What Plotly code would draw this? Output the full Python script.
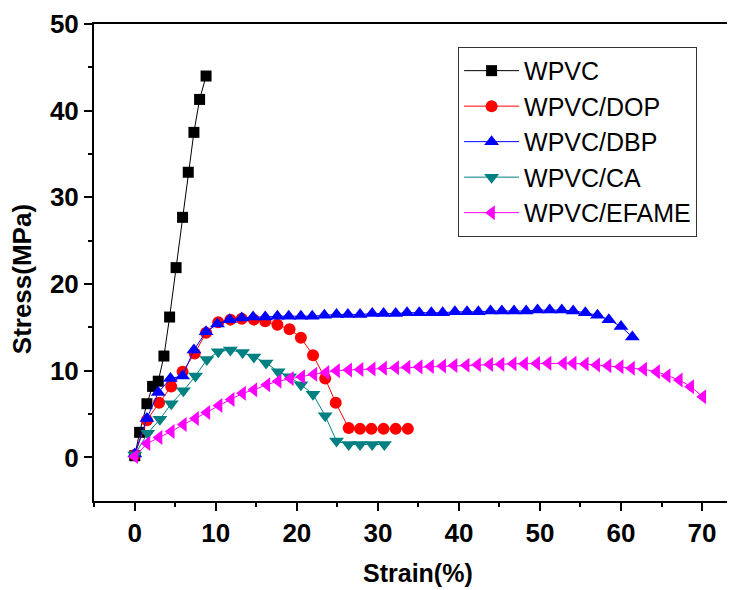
import plotly.graph_objects as go

# ---- data ----
wpvc_x = [0.0, 0.6, 1.5, 2.2, 2.9, 3.6, 4.3, 5.1, 5.9, 6.6, 7.3, 8.0, 8.8]
wpvc_y = [0.2, 2.9, 6.2, 8.2, 8.8, 11.7, 16.2, 21.9, 27.7, 32.9, 37.5, 41.3, 44.0]

dop_x = [0.0, 1.5, 3.0, 4.5, 5.9, 7.4, 8.8, 10.3, 11.8, 13.2, 14.7, 16.1, 17.6,
         19.1, 20.5, 22.0, 23.5, 24.8, 26.4, 27.8, 29.2, 30.7, 32.2, 33.7]
dop_y = [0.3, 4.3, 6.3, 8.2, 9.9, 12.0, 14.4, 15.6, 15.9, 16.0, 15.9, 15.7, 15.3,
         14.8, 13.8, 11.8, 9.1, 6.3, 3.4, 3.3, 3.3, 3.3, 3.3, 3.3]

dbp_x = [0.0, 1.5, 2.9, 4.4, 5.9, 7.3, 8.8, 10.2, 11.7, 13.2, 14.6, 16.1, 17.6,
         19.0, 20.5, 21.9, 23.4, 24.9, 26.3, 27.8, 29.3, 30.7, 32.2, 33.6, 35.1,
         36.6, 38.0, 39.5, 41.0, 42.4, 43.9, 45.3, 46.8, 48.3, 49.7, 51.2, 52.7,
         54.1, 55.6, 57.1, 58.5, 60.0, 61.4]
dbp_y = [0.4, 4.5, 7.5, 9.1, 9.4, 12.4, 14.5, 15.4, 15.9, 16.1, 16.2, 16.2, 16.3,
         16.3, 16.3, 16.3, 16.4, 16.5, 16.5, 16.5, 16.6, 16.6, 16.6, 16.7, 16.7,
         16.7, 16.7, 16.8, 16.8, 16.8, 16.9, 16.9, 16.9, 16.9, 17.0, 17.0, 17.0,
         16.9, 16.7, 16.4, 15.9, 15.1, 13.9]

ca_x = [0.0, 1.6, 3.1, 4.5, 6.0, 7.5, 8.9, 10.3, 11.8, 13.3, 14.7, 16.2, 17.7,
        19.1, 20.5, 22.0, 23.5, 24.9, 26.4, 27.8, 29.3, 30.8]
ca_y = [0.3, 2.8, 4.4, 6.2, 7.7, 9.4, 11.3, 12.2, 12.4, 12.1, 11.6, 10.9, 9.9,
        9.3, 8.4, 7.3, 4.8, 1.9, 1.5, 1.5, 1.5, 1.5]

efame_x = [0.0, 1.5, 3.0, 4.5, 6.0, 7.5, 8.9, 10.4, 11.9, 13.3, 14.7, 16.3, 17.7,
           19.2, 20.6, 22.1, 23.6, 24.9, 26.4, 27.8, 29.3, 30.7, 32.2, 33.6, 35.1,
           36.5, 38.0, 39.4, 40.9, 42.3, 43.8, 45.2, 46.7, 48.1, 49.6, 51.0, 52.9,
           54.1, 55.6, 57.0, 58.4, 59.9, 61.3, 62.8, 64.4, 65.7, 67.2, 68.6, 70.1]
efame_y = [0.1, 1.6, 2.3, 3.0, 3.8, 4.5, 5.2, 6.0, 6.7, 7.4, 7.8, 8.4, 8.8,
           9.1, 9.3, 9.6, 9.8, 10.0, 10.1, 10.15, 10.2, 10.3, 10.35, 10.4, 10.45,
           10.5, 10.55, 10.6, 10.65, 10.7, 10.72, 10.75, 10.8, 10.82, 10.85, 10.86, 10.86,
           10.86, 10.78, 10.67, 10.59, 10.47, 10.29, 10.17, 9.9, 9.43, 8.94, 8.17, 7.0]

x_ticks = [0, 10, 20, 30, 40, 50, 60, 70]
y_ticks = [0, 10, 20, 30, 40, 50]
x_title = "Strain(%)"
y_title = "Stress(MPa)"

names = ["WPVC", "WPVC/DOP", "WPVC/DBP", "WPVC/CA", "WPVC/EFAME"]
colors = ["#000000", "#FF0000", "#0000FF", "#008080", "#FF00FF"]
symbols = ["square", "circle", "triangle-up", "triangle-down", "triangle-left"]
xs = [wpvc_x, dop_x, dbp_x, ca_x, efame_x]
ys = [wpvc_y, dop_y, dbp_y, ca_y, efame_y]
sizes = [11, 12, 13, 13, 13]

FONT = "Liberation Sans, Arial"

fig = go.Figure()
for n, c, s, x, y, sz in zip(names, colors, symbols, xs, ys, sizes):
    fig.add_trace(go.Scatter(
        x=x, y=y, name=n, mode="lines+markers",
        line=dict(color=c, width=1),
        marker=dict(symbol=s, color=c, size=sz, line=dict(width=0)),
        cliponaxis=False,
    ))

# the page body has an 8px margin, so the figure is drawn 8px smaller
fig.update_layout(
    width=727, height=582,
    margin=dict(l=86, r=0, t=16, b=89, autoexpand=False),
    paper_bgcolor="white", plot_bgcolor="white",
    showlegend=True,
    legend=dict(
        x=0.568, y=0.952, xanchor="left", yanchor="top",
        font=dict(family=FONT, size=25, color="black"),
        bgcolor="white", bordercolor="#333333", borderwidth=1,
        itemwidth=55, tracegroupgap=0,
    ),
    xaxis=dict(
        range=[-5.03, 74.07], tickvals=x_ticks, automargin=False,
        ticks="outside", ticklen=8, tickwidth=2, tickcolor="black",
        minor=dict(tickvals=[-5, 5, 15, 25, 35, 45, 55, 65], ticks="outside",
                   ticklen=4, tickwidth=2, tickcolor="black"),
        showline=True, linewidth=2, linecolor="black", mirror=True,
        showgrid=False, zeroline=False,
        tickfont=dict(family=FONT, size=26, color="black", weight="bold"),
    ),
    yaxis=dict(
        range=[-5.02, 50.0], tickvals=y_ticks, automargin=False,
        ticks="outside", ticklen=8, tickwidth=2, tickcolor="black",
        minor=dict(tickvals=[5, 15, 25, 35, 45], ticks="outside",
                   ticklen=4, tickwidth=2, tickcolor="black"),
        showline=True, linewidth=2, linecolor="black", mirror=False,
        showgrid=False, zeroline=False,
        tickfont=dict(family=FONT, size=26, color="black", weight="bold"),
    ),
    annotations=[
        dict(text="<b>" + x_title + "</b>", xref="paper", yref="paper",
             x=0.506, y=-0.151, xanchor="center", yanchor="middle", showarrow=False,
             borderpad=0, font=dict(family=FONT, size=25, color="black")),
        dict(text="<b>" + y_title + "</b>", xref="paper", yref="paper",
             x=-0.1123, y=0.465, xanchor="center", yanchor="middle", showarrow=False,
             textangle=-90, font=dict(family=FONT, size=26, color="black")),
    ],
)

fig.write_html("out.html")
